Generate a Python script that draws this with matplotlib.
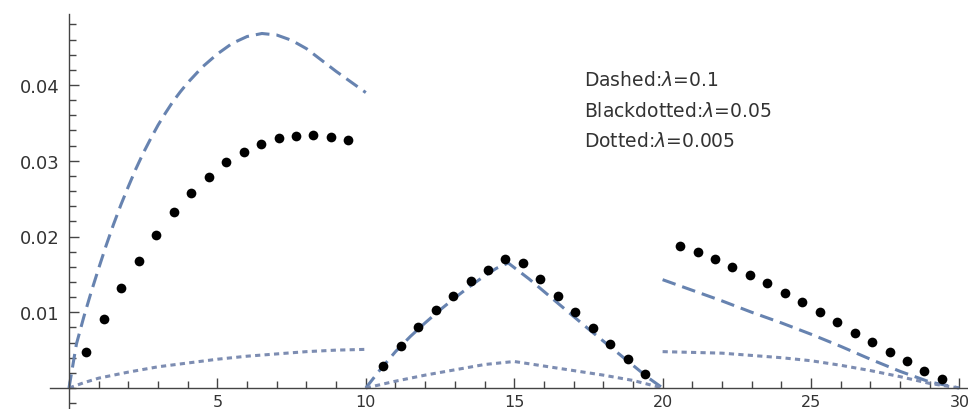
import numpy as np
import matplotlib
matplotlib.use('Agg')
import matplotlib.pyplot as plt
from matplotlib.ticker import FixedLocator, FuncFormatter

# lambda = 0.1 (dashed), three pieces
dash1_x = [0, 0.25, 0.5, 0.75, 1.0, 1.25, 1.5, 1.75, 2.0, 2.25, 2.5, 2.75, 3.0, 3.25, 3.5, 3.75,
           4.0, 4.5, 5.0, 5.5, 6.0, 6.5, 7.0, 7.5, 8.0, 8.5, 9.0, 9.5, 10.0]
dash1_y = [0, 0.0058, 0.0094, 0.0127, 0.0158, 0.0188, 0.0216, 0.0242, 0.0266, 0.0289, 0.0310, 0.0329,
           0.0347, 0.0363, 0.0378, 0.0391, 0.0403, 0.0424, 0.0441, 0.0455, 0.0464, 0.0468, 0.0466,
           0.0459, 0.0448, 0.0433, 0.0418, 0.0404, 0.0390]
dash2_x = [10, 10.5, 11, 11.5, 12, 12.5, 13, 13.5, 14, 14.4, 14.8, 15.5, 16.5, 17.5, 18.5, 19.5, 20]
dash2_y = [0, 0.0025, 0.0048, 0.0068, 0.0086, 0.0103, 0.0119, 0.0134, 0.0148, 0.0158, 0.0165,
           0.0144, 0.0111, 0.0078, 0.0046, 0.0014, 0]
dash3_x = [20, 21, 22, 23, 24, 25, 26, 27, 28, 29, 30]
dash3_y = [0.0143, 0.0129, 0.0115, 0.0100, 0.0086, 0.0071, 0.0055, 0.0038, 0.0022, 0.0008, 0]

# lambda = 0.005 (dotted)
dot1_x = [0, 0.5, 1, 2, 3, 4, 5, 6, 7, 8, 9, 10]
dot1_y = [0, 0.0007, 0.0013, 0.0021, 0.0028, 0.0033, 0.0038, 0.0042, 0.0045, 0.0048, 0.0050, 0.0051]
dot2_x = [10, 11, 12, 13, 14, 15, 16, 17, 18, 19, 20]
dot2_y = [0, 0.0009, 0.0017, 0.0024, 0.0031, 0.0035, 0.0029, 0.0023, 0.0017, 0.0010, 0]
dot3_x = [20, 21, 22, 23, 24, 25, 26, 27, 28, 29, 30]
dot3_y = [0.0048, 0.0047, 0.0046, 0.0043, 0.0040, 0.0036, 0.0030, 0.0023, 0.0015, 0.0006, 0]

# lambda = 0.05 (black dots), 16 points per piece
blk_x1 = [k * 10 / 17 for k in range(1, 17)]
blk_y1 = [0.0048, 0.0091, 0.0132, 0.0168, 0.0202, 0.0232, 0.0257, 0.0279, 0.0298, 0.0312, 0.0322, 0.0330, 0.0333, 0.0334, 0.0332, 0.0327]
blk_x2 = [10 + k * 10 / 17 for k in range(1, 17)]
blk_y2 = [0.0029, 0.0056, 0.0080, 0.0103, 0.0122, 0.0141, 0.0156, 0.0170, 0.0165, 0.0144, 0.0122, 0.0100, 0.0079, 0.0058, 0.0038, 0.0019]
blk_x3 = [20 + k * 10 / 17 for k in range(1, 17)]
blk_y3 = [0.0187, 0.0179, 0.0170, 0.0160, 0.0149, 0.0138, 0.0125, 0.0113, 0.0100, 0.0087, 0.0073, 0.0061, 0.0048, 0.0035, 0.0023, 0.0012]

x_major = [5, 10, 15, 20, 25, 30]
x_minor = list(range(0, 31))
y_major = [0.01, 0.02, 0.03, 0.04]
y_minor = [-0.002 + 0.002 * i for i in range(26)]
notes = [r'Dashed:$\lambda$=0.1', r'Blackdotted:$\lambda$=0.05', r'Dotted:$\lambda$=0.005']

dash_col = '#6783b0'
dot_col = '#7d8db2'

fig = plt.figure(figsize=(9.68, 4.10), dpi=100)
ax = fig.add_axes([0, 0, 1, 1])

for xs, ys in [(dash1_x, dash1_y), (dash2_x, dash2_y), (dash3_x, dash3_y)]:
    ax.plot(xs, ys, color=dash_col, lw=2.2, linestyle=(0, (4.5, 2.3)))
for xs, ys in [(dot1_x, dot1_y), (dot2_x, dot2_y), (dot3_x, dot3_y)]:
    ax.plot(xs, ys, color=dot_col, lw=2.2, linestyle=(0, (1.7, 1.4)))
for xs, ys in [(blk_x1, blk_y1), (blk_x2, blk_y2), (blk_x3, blk_y3)]:
    ax.plot(xs, ys, 'o', color='black', ms=7, mec='none')

# axes through the origin, mathematica style
ax.set_xlim(-69 / 29.68, 899 / 29.68)
ax.set_ylim(-21 / 7575, 389 / 7575)
for s in ['top', 'right']:
    ax.spines[s].set_visible(False)
ax.spines['left'].set_position(('data', 0))
ax.spines['bottom'].set_position(('data', 0))
ax.spines['left'].set_bounds(-0.0028, 0.0494)
ax.spines['bottom'].set_bounds(-0.64, 30.3)
for s in ['left', 'bottom']:
    ax.spines[s].set_color('#444444')
    ax.spines[s].set_linewidth(1.0)

ax.xaxis.set_major_locator(FixedLocator(x_major))
ax.xaxis.set_minor_locator(FixedLocator(x_minor))
ax.yaxis.set_major_locator(FixedLocator(y_major))
ax.yaxis.set_minor_locator(FixedLocator(y_minor))
ax.yaxis.set_major_formatter(FuncFormatter(lambda v, p: '%.2f' % v))
ax.tick_params(which='both', direction='in', colors='#444444', labelcolor='#333333', width=1.0)
ax.tick_params(which='major', length=7)
ax.tick_params(which='minor', length=5)
ax.tick_params(axis='x', which='major', labelsize=11.5, pad=4)
ax.tick_params(axis='y', which='major', labelsize=13, pad=7)

# notes placed in pixel coords measured from the top
for i, t in enumerate(notes):
    ax.text(584, 410 - (81 + 30.5 * i), t, transform=None, fontsize=13.5, color='#333333',
            va='center', ha='left')

fig.savefig('out.png', dpi=100)
